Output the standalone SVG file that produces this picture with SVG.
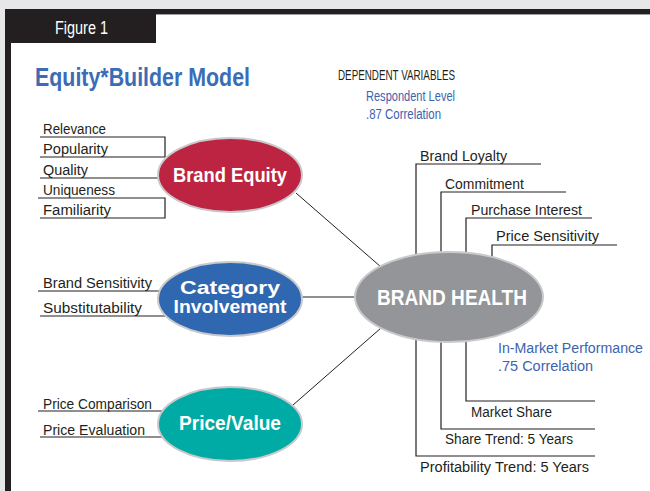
<svg xmlns="http://www.w3.org/2000/svg" width="650" height="491" viewBox="0 0 650 491">
  <style>
    .lbl { font-family: "Liberation Sans", Arial, sans-serif; font-size: 14px; fill: #231f20; }
    .blue { font-family: "Liberation Sans", Arial, sans-serif; font-size: 14px; fill: #3d62ae; }
    .node-text { font-family: "Liberation Sans", Arial, sans-serif; font-weight: bold; fill: #ffffff; text-anchor: middle; }
    .uline { fill: none; stroke: #231f20; stroke-width: 1.2; }
    .conn { fill: none; stroke: #231f20; stroke-width: 1; }
    .oval { stroke: #c8c9cb; stroke-width: 2; }
  </style>

  <!-- page background and frame -->
  <rect x="0" y="0" width="650" height="491" fill="#e6e7e8"/>
  <rect x="5" y="9" width="645" height="482" fill="#231f20"/>
  <rect x="11" y="14" width="639" height="477" fill="#ffffff"/>
  <line x1="156" y1="14.5" x2="650" y2="14.5" stroke="#9d9fa2" stroke-width="1"/>
  <rect x="5" y="9" width="151" height="34" fill="#231f20"/>
  <text x="55" y="34" font-family="Liberation Sans, Arial, sans-serif" font-size="18" fill="#ffffff" textLength="53" lengthAdjust="spacingAndGlyphs">Figure 1</text>

  <!-- heading -->
  <text x="35" y="86" font-family="Liberation Sans, Arial, sans-serif" font-size="26" font-weight="bold" fill="#3a6db5" textLength="215" lengthAdjust="spacingAndGlyphs">Equity*Builder Model</text>
  <text x="338" y="80" class="lbl" textLength="117" lengthAdjust="spacingAndGlyphs">DEPENDENT VARIABLES</text>
  <text x="366" y="101" class="blue" textLength="89" lengthAdjust="spacingAndGlyphs">Respondent Level</text>
  <text x="366" y="119" class="blue" textLength="75" lengthAdjust="spacingAndGlyphs">.87 Correlation</text>

  <!-- connectors -->
  <g id="connectors">
    <line class="conn" x1="296" y1="193" x2="381" y2="267"/>
    <line class="conn" x1="302" y1="297" x2="356" y2="297"/>
    <line class="conn" x1="293" y1="405" x2="381" y2="328"/>
  </g>

  <!-- Brand Equity and its attributes -->
  <g id="brand-equity">
    <path class="uline" d="M40,137 H165 V157 H40"/>
    <path class="uline" d="M40,178 H160"/>
    <path class="uline" d="M38,198 H165 V218 H40"/>
    <text x="43" y="134" class="lbl" textLength="63" lengthAdjust="spacingAndGlyphs">Relevance</text>
    <text x="43" y="154" class="lbl" textLength="65" lengthAdjust="spacingAndGlyphs">Popularity</text>
    <text x="43" y="175" class="lbl" textLength="45" lengthAdjust="spacingAndGlyphs">Quality</text>
    <text x="43" y="195" class="lbl" textLength="72" lengthAdjust="spacingAndGlyphs">Uniqueness</text>
    <text x="43" y="215" class="lbl" textLength="68" lengthAdjust="spacingAndGlyphs">Familiarity</text>
    <ellipse class="oval" cx="230" cy="175" rx="72" ry="37" fill="#bd2442"/>
    <text x="230" y="182" class="node-text" font-size="20" textLength="114" lengthAdjust="spacingAndGlyphs">Brand Equity</text>
  </g>

  <!-- Category Involvement and its attributes -->
  <g id="category-involvement">
    <path class="uline" d="M38,291 H162"/>
    <path class="uline" d="M40,316 H165"/>
    <text x="43" y="288" class="lbl" textLength="109" lengthAdjust="spacingAndGlyphs">Brand Sensitivity</text>
    <text x="43" y="313" class="lbl" textLength="99" lengthAdjust="spacingAndGlyphs">Substitutability</text>
    <ellipse class="oval" cx="230" cy="299" rx="72" ry="37" fill="#2f68b1"/>
    <text x="230" y="294" class="node-text" font-size="18.5" textLength="100" lengthAdjust="spacingAndGlyphs">Category</text>
    <text x="230" y="313" class="node-text" font-size="18.5" textLength="113" lengthAdjust="spacingAndGlyphs">Involvement</text>
  </g>

  <!-- Price/Value and its attributes -->
  <g id="price-value">
    <path class="uline" d="M38,411 H162"/>
    <path class="uline" d="M40,437 H162"/>
    <text x="43" y="409" class="lbl" textLength="109" lengthAdjust="spacingAndGlyphs">Price Comparison</text>
    <text x="43" y="435" class="lbl" textLength="102" lengthAdjust="spacingAndGlyphs">Price Evaluation</text>
    <ellipse class="oval" cx="230" cy="424" rx="72" ry="37" fill="#00aba5"/>
    <text x="230" y="430" class="node-text" font-size="20" textLength="102" lengthAdjust="spacingAndGlyphs">Price/Value</text>
  </g>

  <!-- Brand Health with respondent-level and in-market measures -->
  <g id="brand-health">
    <path class="uline" d="M416,260 V164 H541"/>
    <path class="uline" d="M441,256 V192 H566"/>
    <path class="uline" d="M466,256 V218 H592"/>
    <path class="uline" d="M492,258 V245 H617"/>
    <path class="uline" d="M466,335 V401 H595"/>
    <path class="uline" d="M441,338 V429 H595"/>
    <path class="uline" d="M416,334 V456 H595"/>
    <text x="420" y="161" class="lbl" textLength="87" lengthAdjust="spacingAndGlyphs">Brand Loyalty</text>
    <text x="445" y="189" class="lbl" textLength="79" lengthAdjust="spacingAndGlyphs">Commitment</text>
    <text x="471" y="215" class="lbl" textLength="111" lengthAdjust="spacingAndGlyphs">Purchase Interest</text>
    <text x="496" y="241" class="lbl" textLength="103" lengthAdjust="spacingAndGlyphs">Price Sensitivity</text>
    <text x="471" y="417" class="lbl" textLength="81" lengthAdjust="spacingAndGlyphs">Market Share</text>
    <text x="445" y="444" class="lbl" textLength="128" lengthAdjust="spacingAndGlyphs">Share Trend: 5 Years</text>
    <text x="420" y="472" class="lbl" textLength="169" lengthAdjust="spacingAndGlyphs">Profitability Trend: 5 Years</text>
    <text x="498" y="353" class="blue" textLength="145" lengthAdjust="spacingAndGlyphs">In-Market Performance</text>
    <text x="498" y="371" class="blue" textLength="95" lengthAdjust="spacingAndGlyphs">.75 Correlation</text>
    <ellipse class="oval" cx="449" cy="297" rx="94" ry="45" fill="#939598"/>
    <text x="452" y="305" class="node-text" font-size="22" textLength="150" lengthAdjust="spacingAndGlyphs">BRAND HEALTH</text>
  </g>
</svg>
